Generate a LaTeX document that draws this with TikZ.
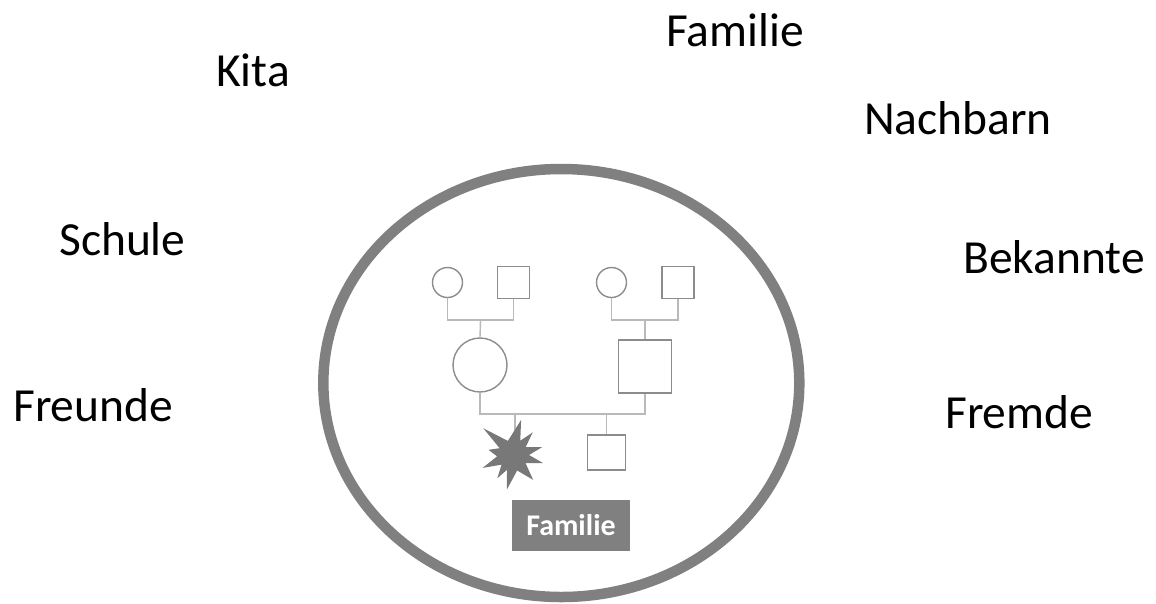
\documentclass[tikz,border=0pt]{standalone}
\usepackage{fontspec}
\setmainfont{Carlito}
\definecolor{ring}{RGB}{128,128,128}
\definecolor{shapeline}{RGB}{140,140,140}
\definecolor{linkline}{RGB}{185,185,185}
\definecolor{starfill}{RGB}{120,120,120}
\begin{document}
\begin{tikzpicture}[x=1pt,y=-1pt,
  lbl/.style={anchor=base west,inner sep=0pt,font=\fontsize{47.5}{56}\selectfont,text=black},
  fem/.style={draw=shapeline,line width=1.4pt,circle,inner sep=0pt},
  male/.style={draw=shapeline,line width=1.4pt,rectangle,inner sep=0pt},
  link/.style={draw=linkline,line width=1.4pt}]
\useasboundingbox (0,0) rectangle (1156,603);
\fill[white] (0,0) rectangle (1156,603);
% outer ring
\draw[ring,line width=10.5pt] (561.3,383) ellipse [x radius=238,y radius=214];
% outside labels
\node[lbl] (kita) at (216,86.7) {Kita};
\node[lbl] (schule) at (59,255) {Schule};
\node[lbl] (freunde) at (13,421.7) {Freunde};
\node[lbl] (familietop) at (666,46) {Familie};
\node[lbl] (nachbarn) at (864,134) {Nachbarn};
\node[lbl] (bekannte) at (963,273.3) {Bekannte};
\node[lbl] (fremde) at (945,428.3) {Fremde};
% pedigree
\node[fem,minimum size=30pt] (gpaf) at (447.5,282.5) {};
\node[male,minimum size=32pt] (gpam) at (513.5,282.5) {};
\node[fem,minimum size=30pt] (gpbf) at (611.5,282.5) {};
\node[male,minimum size=32pt] (gpbm) at (678,282.5) {};
\node[fem,minimum size=54pt] (mother) at (480,365) {};
\node[male,minimum size=53pt] (father) at (645,366.5) {};
\node[male,minimum width=38pt,minimum height=35pt] (child) at (606.5,452.5) {};
\coordinate (ja) at (480.5,320);
\coordinate (jb) at (645,320);
\coordinate (jc) at (560,414);
\coordinate (starc) at (513,455);
\coordinate (startop) at (515,432);
\draw[link] (gpaf.south) -- (gpaf.south |- ja) -- (gpam.south |- ja) -- (gpam.south);
\draw[link] (ja) -- (mother.north);
\draw[link] (gpbf.south) -- (gpbf.south |- jb) -- (gpbm.south |- jb) -- (gpbm.south);
\draw[link] (jb) -- (father.north);
\draw[link] (mother.south) -- (mother.south |- jc) -- (father.south |- jc) -- (father.south);
\draw[link] (startop |- jc) -- (startop);
\draw[link] (child.north |- jc) -- (child.north);
% explosion (index child)
\fill[starfill,shift={(starc)}]
  (222:40) -- (250:15) -- (-77:36) -- (-63:16) -- (-49:30) -- (-32:15) -- (-15:30) -- (0:16)
  -- (15:31) -- (33:15) -- (51:32) -- (75:16) -- (100:35) -- (112:16) -- (124:28) -- (140:15)
  -- (157:33) -- (175:16) -- (192:25) -- (207:15) -- cycle;
% label box
\node[fill=ring,text=white,font=\fontsize{30}{36}\selectfont\bfseries,minimum width=118pt,minimum height=51pt,inner sep=0pt] (famlabel) at (571,525.5) {Familie};
\end{tikzpicture}
\end{document}
